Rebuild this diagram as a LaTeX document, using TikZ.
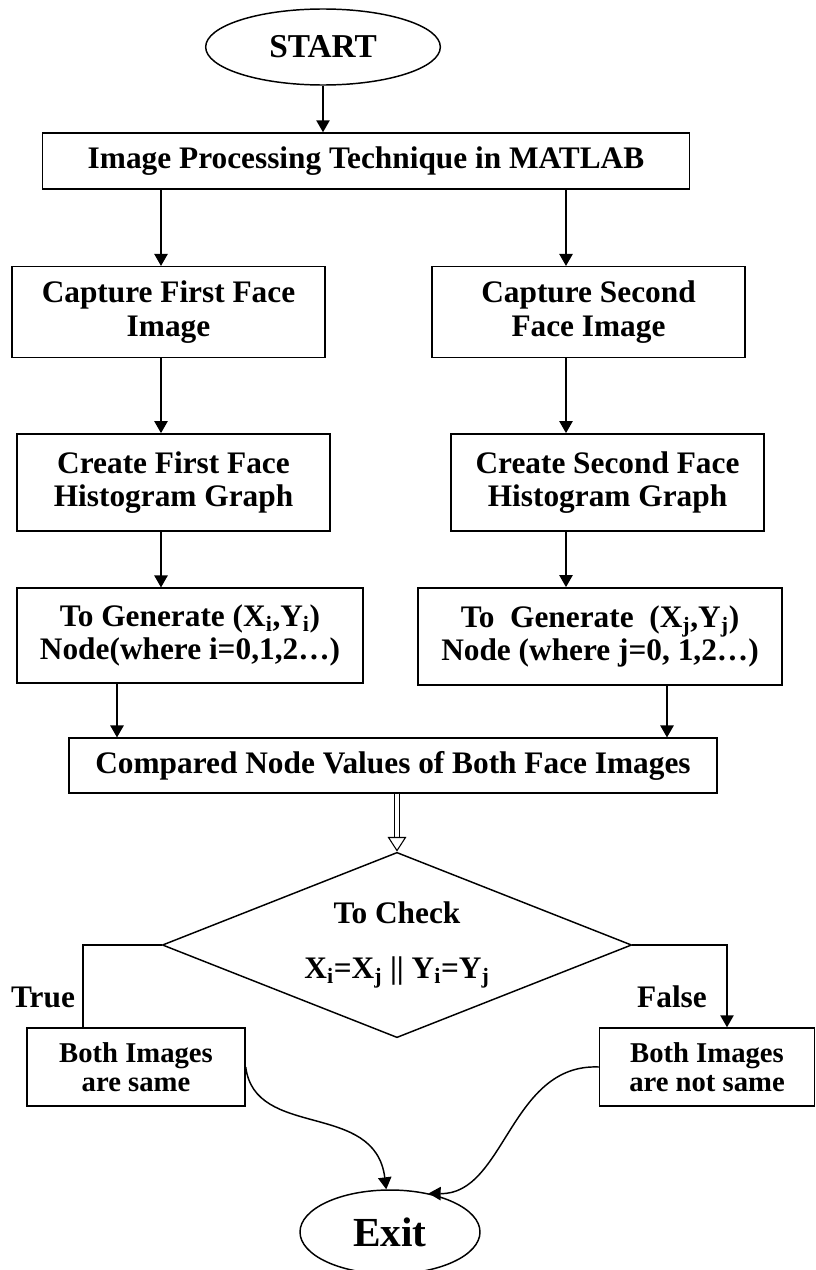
\documentclass[tikz,border=0pt]{standalone}
\usepackage{fontspec}
\setmainfont{Liberation Serif}
\usetikzlibrary{shapes.geometric,arrows.meta,positioning}
\tikzset{
  box/.style={draw, rectangle, line width=1.1pt, align=center, inner sep=0pt,
    font=\bfseries\fontsize{23.5}{25}\selectfont},
  smallbox/.style={box, font=\bfseries\fontsize{21.5}{22}\selectfont},
  oval/.style={draw, ellipse, line width=1.1pt, inner sep=0pt},
  check/.style={draw, diamond, aspect=2.53, line width=1.1pt, inner sep=0pt, align=center,
    font=\bfseries\fontsize{23.5}{25}\selectfont},
  flow/.style={line width=1.1pt, -{Triangle[length=9pt,width=10pt]}},
  branch/.style={font=\bfseries\fontsize{23.5}{25}\selectfont}
}

\begin{document}
\begin{tikzpicture}[x=0.75pt, y=-0.75pt]
  \useasboundingbox (0,0) rectangle (815,1270);
  % columns of the arrows
  \coordinate (lcol) at (161,0);
  \coordinate (rcol) at (566,0);
  \coordinate (lcmp) at (117,0);
  \coordinate (rcmp) at (667,0);
  \coordinate (ltrue) at (83,0);
  \coordinate (rfalse) at (727,0);

  \node[oval, minimum width=176pt, minimum height=57pt,
        font=\bfseries\fontsize{25}{27}\selectfont] (start) at (323,47) {START};
  \node[box, minimum width=485pt, minimum height=42pt] (imp) at (366,161)
       {Image Processing Technique in MATLAB};

  \node[box, minimum width=235pt, minimum height=68pt] (cap1) at (168.5,312)
       {Capture First Face\\Image};
  \node[box, minimum width=235pt, minimum height=68pt] (cap2) at (588.5,312)
       {Capture Second\\Face Image};

  \node[box, minimum width=235pt, minimum height=73pt] (his1) at (173.5,482.5)
       {Create First Face\\Histogram Graph};
  \node[box, minimum width=235pt, minimum height=73pt] (his2) at (607.5,482.5)
       {Create Second Face\\Histogram Graph};

  \node[box, minimum width=259.5pt, minimum height=71pt] (gen1) at (190,635.5)
       {To Generate (X\textsubscript{i},Y\textsubscript{i})\\Node(where i=0,1,2…)};
  \node[box, minimum width=273pt, minimum height=73pt] (gen2) at (600,636.5)
       {To\enspace Generate\enspace (X\textsubscript{j},Y\textsubscript{j})\\Node (where j=0, 1,2…)};

  \node[box, minimum width=486pt, minimum height=41pt] (cmp) at (393,765.5)
       {Compared Node Values of Both Face Images};

  \node[check, minimum width=352pt, minimum height=139pt] (dia) at (397,945)
       {To Check\\[16pt]X\textsubscript{i}=X\textsubscript{j} || Y\textsubscript{i}=Y\textsubscript{j}};

  \node[smallbox, minimum width=163.5pt, minimum height=58.5pt] (same) at (136,1067)
       {Both Images\\are same};
  \node[smallbox, minimum width=161pt, minimum height=58.5pt] (notsame) at (707,1067)
       {Both Images\\are not same};

  \node[branch] (true) at (43,997) {True};
  \node[branch] (false) at (672,997) {False};

  \node[oval, minimum width=135pt, minimum height=63pt,
        font=\bfseries\fontsize{31}{33}\selectfont] (exit) at (390,1232) {Exit};

  \draw[flow] (start.south) -- (start.south |- imp.north);
  \draw[flow] (imp.south -| lcol) -- (cap1.north -| lcol);
  \draw[flow] (imp.south -| rcol) -- (cap2.north -| rcol);
  \draw[flow] (cap1.south -| lcol) -- (his1.north -| lcol);
  \draw[flow] (cap2.south -| rcol) -- (his2.north -| rcol);
  \draw[flow] (his1.south -| lcol) -- (gen1.north -| lcol);
  \draw[flow] (his2.south -| rcol) -- (gen2.north -| rcol);
  \draw[flow] (gen1.south -| lcmp) -- (cmp.north -| lcmp);
  \draw[flow] (gen2.south -| rcmp) -- (cmp.north -| rcmp);

  \draw[line width=0.8pt, double, double distance=3pt,
        -{Triangle[open, length=11pt, width=14pt]}] (cmp.south -| dia.north) -- (dia.north);

  \draw[line width=1.1pt] (dia.west) -- (dia.west -| ltrue) -- (same.north -| ltrue);
  \draw[flow] (dia.east) -- (dia.east -| rfalse) -- (notsame.north -| rfalse);

  \draw[flow] (same.east) .. controls (255,1140) and (375,1100) .. (exit.95);
  \draw[flow] (notsame.west) .. controls (510,1063) and (505,1195) .. (exit.45);
\end{tikzpicture}
\end{document}
